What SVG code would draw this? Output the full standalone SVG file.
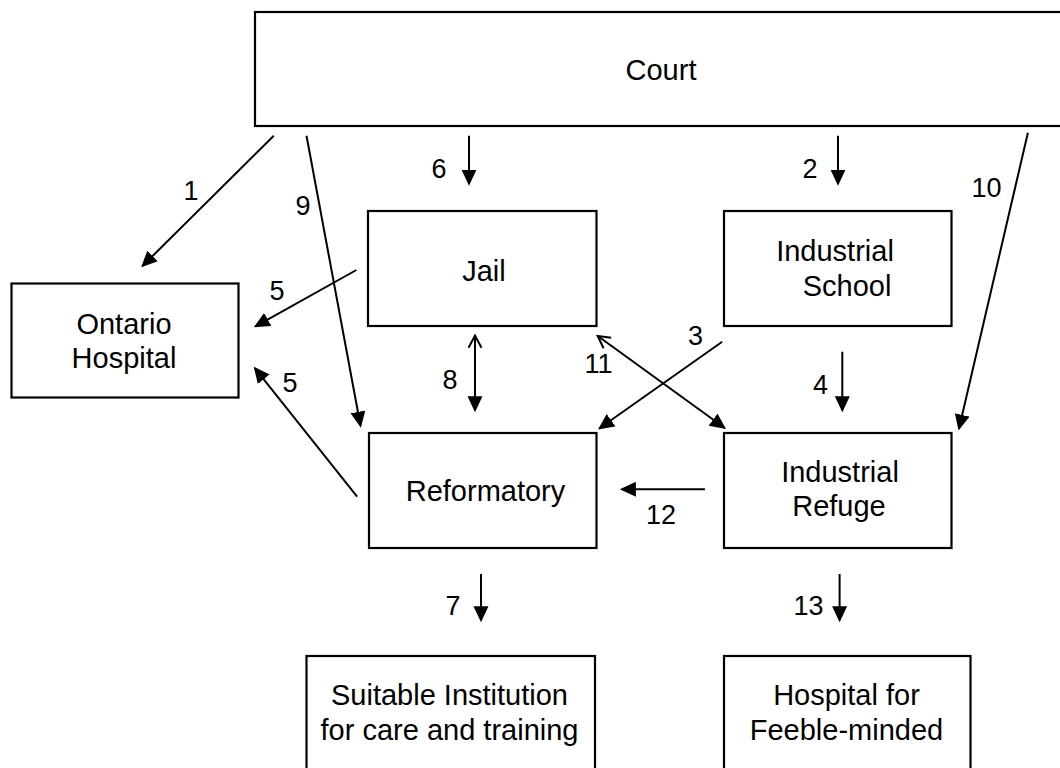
<svg xmlns="http://www.w3.org/2000/svg" width="1060" height="768" viewBox="0 0 1060 768">
<style>
  .box { fill: #ffffff; stroke: #000000; stroke-width: 2.2; }
  .nt { font-family: "Liberation Sans", Arial, sans-serif; font-size: 29px; fill: #000000; text-anchor: middle; }
  .lbl { font-family: "Liberation Sans", Arial, sans-serif; font-size: 27px; fill: #000000; text-anchor: middle; }
  .c { stroke: #000000; stroke-width: 2; fill: none; marker-end: url(#fa); }
  .dbl { marker-start: url(#oa); }
</style>
<defs>
  <marker id="fa" markerUnits="userSpaceOnUse" markerWidth="18" markerHeight="16" refX="14" refY="7.5" orient="auto">
    <path d="M0,0 L16,7.5 L0,15 Z" fill="#000000"/>
  </marker>
  <marker id="oa" markerUnits="userSpaceOnUse" markerWidth="18" markerHeight="18" refX="13" refY="7.5" orient="auto-start-reverse">
    <path d="M2,1 L14,7.5 L2,14" fill="none" stroke="#000000" stroke-width="2"/>
  </marker>
</defs>
<rect width="1060" height="768" fill="#ffffff"/>

<g id="court">
  <rect class="box" x="255" y="12" width="812" height="114"/>
  <text class="nt" x="661" y="80">Court</text>
</g>
<g id="ontario-hospital">
  <rect class="box" x="11.5" y="283.5" width="227" height="114"/>
  <text class="nt" x="124" y="333.5">Ontario</text>
  <text class="nt" x="124" y="368">Hospital</text>
</g>
<g id="jail">
  <rect class="box" x="368" y="211" width="228.5" height="115"/>
  <text class="nt" x="484" y="281">Jail</text>
</g>
<g id="industrial-school">
  <rect class="box" x="724" y="211" width="227.5" height="115"/>
  <text class="nt" x="835" y="261">Industrial</text>
  <text class="nt" x="847" y="296">School</text>
</g>
<g id="reformatory">
  <rect class="box" x="369" y="433" width="227.5" height="115"/>
  <text class="nt" x="485.5" y="501">Reformatory</text>
</g>
<g id="industrial-refuge">
  <rect class="box" x="724" y="433" width="227.5" height="115"/>
  <text class="nt" x="840" y="482">Industrial</text>
  <text class="nt" x="839" y="516">Refuge</text>
</g>
<g id="suitable-institution">
  <rect class="box" x="306.5" y="656" width="288.5" height="124"/>
  <text class="nt" x="449.5" y="705">Suitable Institution</text>
  <text class="nt" x="449.5" y="740">for care and training</text>
</g>
<g id="hospital-feeble-minded">
  <rect class="box" x="724" y="656" width="246.5" height="124"/>
  <text class="nt" x="846.5" y="705">Hospital for</text>
  <text class="nt" x="846.5" y="740">Feeble-minded</text>
</g>

<g id="connectors">
  <line class="c" x1="273.8" y1="135.7" x2="142.6" y2="265.9"/>
  <line class="c" x1="306.5" y1="135.7" x2="360.5" y2="425.7"/>
  <line class="c" x1="469" y1="135.7" x2="469" y2="183.7"/>
  <line class="c" x1="838" y1="135.7" x2="838" y2="183.7"/>
  <line class="c" x1="1027.9" y1="132.7" x2="959" y2="428.6"/>
  <line class="c" x1="356.4" y1="270" x2="255.5" y2="326.3"/>
  <line class="c" x1="357.1" y1="496.7" x2="255" y2="368.3"/>
  <line class="c dbl" x1="475" y1="336.7" x2="475" y2="410.3"/>
  <line class="c dbl" x1="598.5" y1="336.5" x2="724.4" y2="427.8"/>
  <line class="c" x1="722.2" y1="341.7" x2="599.6" y2="428.3"/>
  <line class="c" x1="842.3" y1="351.7" x2="842.3" y2="410.3"/>
  <line class="c" x1="704.9" y1="489.3" x2="621.9" y2="489.3"/>
  <line class="c" x1="481" y1="574" x2="481" y2="620.3"/>
  <line class="c" x1="839.6" y1="574" x2="839.6" y2="620.3"/>
</g>

<g id="labels">
  <text class="lbl" x="191" y="200">1</text>
  <text class="lbl" x="303" y="215">9</text>
  <text class="lbl" x="439" y="178">6</text>
  <text class="lbl" x="810" y="178">2</text>
  <text class="lbl" x="986.5" y="197">10</text>
  <text class="lbl" x="277" y="300">5</text>
  <text class="lbl" x="290" y="392">5</text>
  <text class="lbl" x="450" y="388.5">8</text>
  <text class="lbl" x="598.5" y="372.5">11</text>
  <text class="lbl" x="695.5" y="345">3</text>
  <text class="lbl" x="820.5" y="393.5">4</text>
  <text class="lbl" x="661" y="524">12</text>
  <text class="lbl" x="453" y="615">7</text>
  <text class="lbl" x="808.5" y="615">13</text>
</g>
</svg>
